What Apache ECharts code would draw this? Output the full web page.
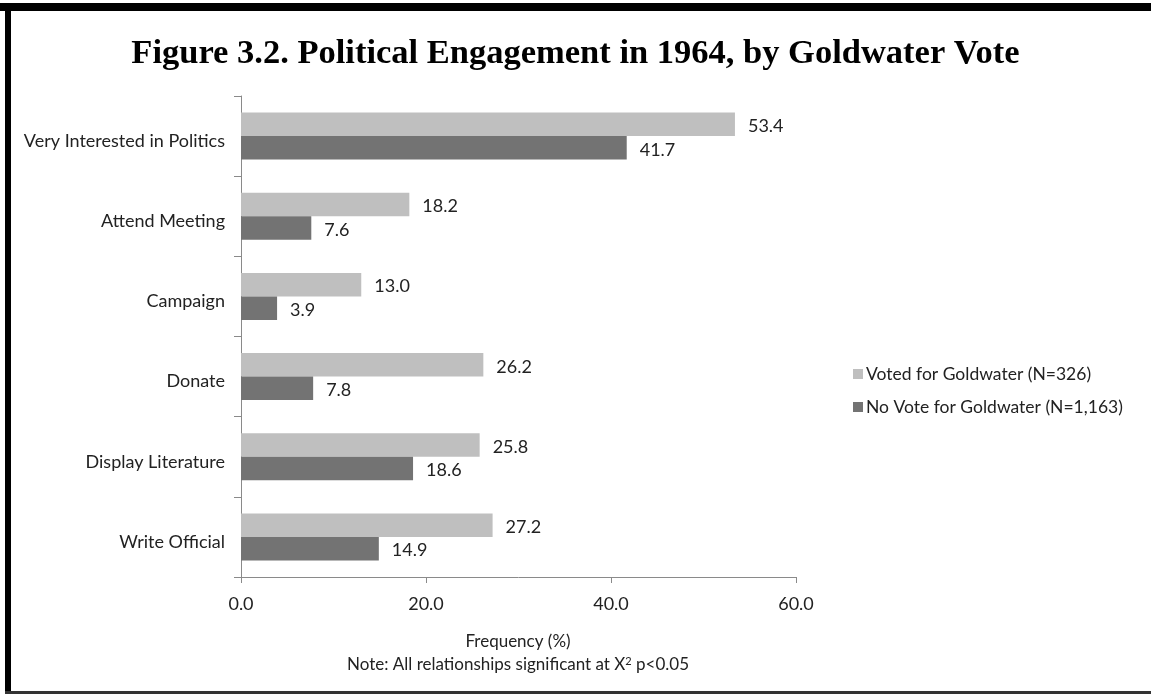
<!DOCTYPE html>
<html>
<head>
<meta charset="utf-8">
<script src="https://cdn.jsdelivr.net/npm/echarts@6/dist/echarts.min.js"></script>
<style>
html,body{margin:0;padding:0;background:#fff;}
#chart{width:1151px;height:694px;}
</style>
</head>
<body>
<div id="chart"></div>
<script>
const categories = ["Very Interested in Politics","Attend Meeting","Campaign","Donate","Display Literature","Write Official"];
const votedGoldwater = [53.4, 18.2, 13.0, 26.2, 25.8, 27.2];
const noVoteGoldwater = [41.7, 7.6, 3.9, 7.8, 18.6, 14.9];
const seriesNames = ["Voted for Goldwater (N=326)", "No Vote for Goldwater (N=1,163)"];
const xTicks = [0, 20, 40, 60];

const font = "Lato, 'Open Sans', sans-serif";
const fs = 18;
const chart = echarts.init(document.getElementById('chart'));
chart.setOption({
  animation: false,
  backgroundColor: '#fff',
  title: {
    text: 'Figure 3.2. Political Engagement in 1964, by Goldwater Vote',
    left: 'center', top: 32,
    textStyle: {fontFamily: "'Liberation Serif', 'Times New Roman', serif", fontWeight: 'bold', fontSize: 34.5, color: '#000'}
  },
  legend: {
    orient: 'vertical', left: 848, top: 360,
    itemWidth: 10, itemHeight: 10, itemGap: 15,
    icon: 'rect',
    textStyle: {fontFamily: font, fontSize: 17.5, color: '#222', padding: [0,0,0,-2]},
    data: seriesNames
  },
  grid: {left: 241, right: 355, top: 96, bottom: 117, containLabel: false},
  xAxis: {
    type: 'value', min: xTicks[0], max: xTicks[xTicks.length-1], interval: 20,
    axisLine: {show: true, lineStyle: {color: '#8a8a8a', width: 1}},
    axisTick: {show: true, length: 6, lineStyle: {color: '#8a8a8a'}},
    splitLine: {show: false},
    axisLabel: {formatter: v => v.toFixed(1), fontFamily: font, fontSize: fs, color: '#222', margin: 18}
  },
  yAxis: {
    type: 'category', data: categories, inverse: true,
    axisLine: {show: true, lineStyle: {color: '#8a8a8a', width: 1}},
    axisTick: {show: true, length: 7, lineStyle: {color: '#8a8a8a'}},
    axisLabel: {
      formatter: v => '{c|' + v + '}',
      margin: 16,
      rich: {c: {fontFamily: font, fontSize: fs, color: '#222', padding: [10, 0, 0, 0]}}
    }
  },
  series: [
    {
      name: seriesNames[0], type: 'bar', data: votedGoldwater,
      barWidth: 23.5, barGap: '0%',
      itemStyle: {color: '#bfbfbf'},
      label: {show: true, position: 'right', distance: 13, offset: [0, 2], formatter: p => p.value.toFixed(1), fontFamily: font, fontSize: fs, color: '#222'}
    },
    {
      name: seriesNames[1], type: 'bar', data: noVoteGoldwater,
      barWidth: 23.5, barGap: '0%',
      itemStyle: {color: '#737373'},
      label: {show: true, position: 'right', distance: 13, offset: [0, 2], formatter: p => p.value.toFixed(1), fontFamily: font, fontSize: fs, color: '#222'}
    }
  ],
  graphic: [
    {type: 'rect', shape: {x: 0, y: 3, width: 1151, height: 8}, style: {fill: '#000'}, silent: true},
    {type: 'rect', shape: {x: 5, y: 3, width: 6, height: 691}, style: {fill: '#000'}, silent: true},
    {type: 'rect', shape: {x: 5, y: 691, width: 1146, height: 3}, style: {fill: '#333'}, silent: true},
    {type: 'text', position: [518, 633],
      style: {text: 'Frequency (%)', fontFamily: font, fontSize: 17, fill: '#222', textAlign: 'center'}},
    {type: 'text', position: [518, 656],
      style: {text: 'Note: All relationships significant at X{sup|2} p<0.05', fontFamily: font, fontSize: 17, fill: '#222', textAlign: 'center',
        rich: {sup: {fontSize: 11, fontFamily: font, verticalAlign: 'top', padding: [0,0,7,0], fill: '#222'}}}}
  ]
});
</script>
</body>
</html>
